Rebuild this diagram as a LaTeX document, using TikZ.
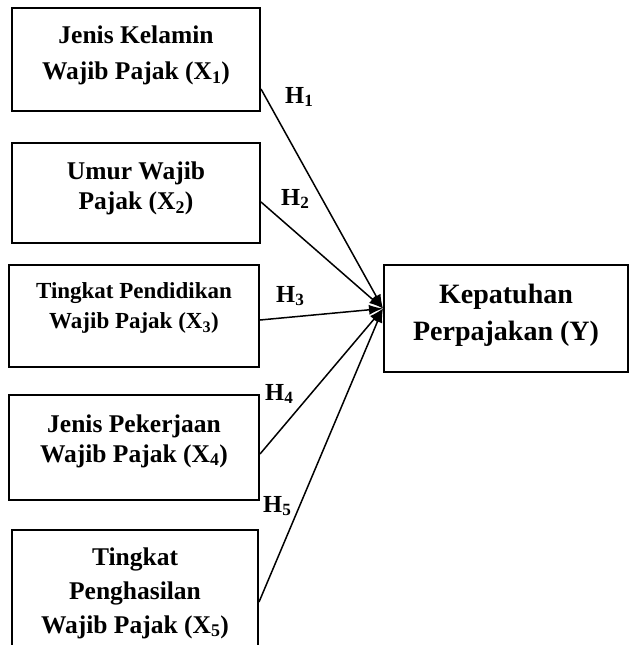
\documentclass[tikz,border=0pt]{standalone}
\usepackage{fontspec}
\setmainfont{Liberation Serif}
\usetikzlibrary{arrows.meta}

\newcommand{\padlow}[1]{\rule[-#1]{0pt}{#1}}

\begin{document}
\begin{tikzpicture}[x=1pt,y=-1pt,
    varbox/.style={draw,line width=2pt,align=center,inner sep=0pt,
      font=\bfseries\fontsize{25.5}{30}\selectfont},
    link/.style={line width=1.5pt,-{Latex[length=14pt,width=10pt]}},
    hyp/.style={anchor=base west,inner sep=0pt,
      font=\bfseries\fontsize{24.5}{24}\selectfont}]
  \useasboundingbox (0,0) rectangle (629,645);
  \clip (0,0) rectangle (629,645);

  \path (136,59.5) node[varbox,minimum width=248pt,minimum height=103pt,
        font=\bfseries\fontsize{25.5}{36}\selectfont]
        (b1) {Jenis Kelamin\\Wajib Pajak (X\textsubscript{1})\padlow{14pt}};
  \path (136,193) node[varbox,minimum width=248pt,minimum height=100pt]
        (b2) {Umur Wajib\\Pajak (X\textsubscript{2})\padlow{14.5pt}};
  \path (134,316) node[varbox,minimum width=250pt,minimum height=102pt,
        font=\bfseries\fontsize{23}{30}\selectfont]
        (b3) {Tingkat Pendidikan\\Wajib Pajak (X\textsubscript{3})\padlow{21pt}};
  \path (134,447.5) node[varbox,minimum width=250pt,minimum height=105pt]
        (b4) {Jenis Pekerjaan\\Wajib Pajak (X\textsubscript{4})\padlow{18.5pt}};
  \path (135,593) node[varbox,minimum width=246pt,minimum height=126pt,
        font=\bfseries\fontsize{25.5}{34}\selectfont]
        (b5) {Tingkat\\Penghasilan\\Wajib Pajak (X\textsubscript{5})};

  \path (506,318.5) node[varbox,minimum width=244pt,minimum height=107pt,
        font=\bfseries\fontsize{28}{37}\selectfont]
        (Y) {Kepatuhan\\Perpajakan (Y)\padlow{13pt}};
  \coordinate (tip) at ([yshift=10pt]Y.west);

  % hypotheses
  \draw[link] ([yshift=23pt]b1.south east) -- (tip);
  \draw[link] ([yshift=-9pt]b2.east) -- (tip);
  \draw[link] ([yshift=-4pt]b3.east) -- (tip);
  \draw[link] ([yshift=-6.5pt]b4.east) -- (tip);
  \draw[link] ([yshift=-9pt]b5.east) -- (tip);

  \path (285,103) node[hyp] (h1) {H\textsubscript{1}};
  \path (281,205) node[hyp] (h2) {H\textsubscript{2}};
  \path (276,302) node[hyp] (h3) {H\textsubscript{3}};
  \path (265,400) node[hyp] (h4) {H\textsubscript{4}};
  \path (263,512) node[hyp] (h5) {H\textsubscript{5}};
\end{tikzpicture}
\end{document}
